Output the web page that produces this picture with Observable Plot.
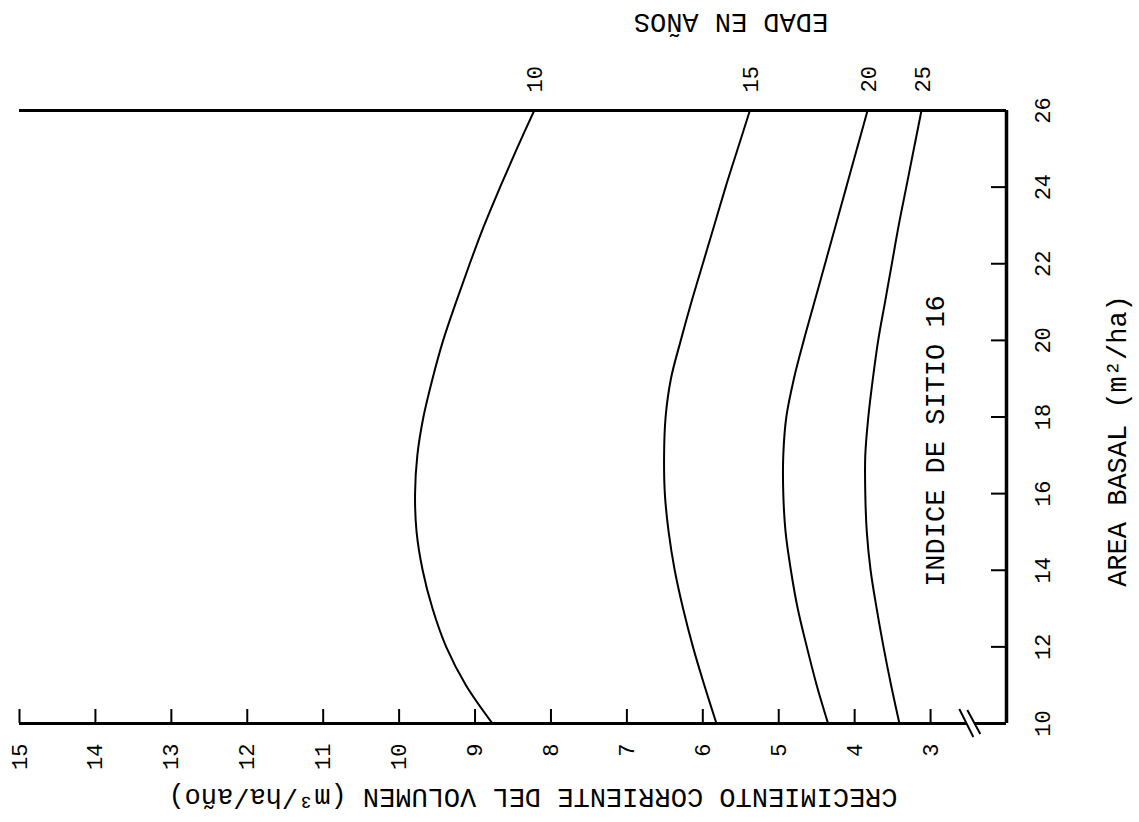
<!DOCTYPE html>
<html>
<head>
<meta charset="utf-8">
<script src="https://cdn.jsdelivr.net/npm/d3@7"></script>
<script src="https://cdn.jsdelivr.net/npm/@observablehq/plot@0.6"></script>
<style>
  html, body { margin: 0; padding: 0; background: #fff; }
  svg { display: block; }
</style>
</head>
<body>
<script>
// Crecimiento corriente del volumen vs. área basal, índice de sitio 16
const edades = [10, 15, 20, 25];
const areaBasal = [10, 11, 12, 13, 14, 15, 16, 17, 18, 19, 20, 21, 22, 23, 24, 25, 26];
const crecEdad10 = [8.77, 9.12, 9.38, 9.56, 9.69, 9.77, 9.79, 9.76, 9.68, 9.56, 9.42, 9.25, 9.07, 8.88, 8.67, 8.45, 8.22];
const crecEdad15 = [5.82, 5.98, 6.13, 6.26, 6.37, 6.45, 6.50, 6.51, 6.49, 6.42, 6.29, 6.15, 6.00, 5.85, 5.70, 5.54, 5.38];
const crecEdad20 = [4.35, 4.50, 4.63, 4.75, 4.84, 4.91, 4.94, 4.94, 4.90, 4.80, 4.67, 4.53, 4.39, 4.25, 4.11, 3.97, 3.83];
const crecEdad25 = [3.41, 3.52, 3.62, 3.71, 3.79, 3.84, 3.86, 3.86, 3.82, 3.76, 3.69, 3.60, 3.51, 3.42, 3.32, 3.22, 3.12];

const ticksCrec = [15, 14, 13, 12, 11, 10, 9, 8, 7, 6, 5, 4, 3];
const ticksArea = [10, 12, 14, 16, 18, 20, 22, 24, 26];
const marcasArea = [12, 14, 16, 18, 20, 22, 24];
const corteEje = 2.47; // where the volume axis is broken

const tituloX = "CRECIMIENTO CORRIENTE DEL VOLUMEN (m³/ha/año)";
const tituloY = "AREA BASAL (m²/ha)";
const tituloEdad = "EDAD EN AÑOS";
const nota = "INDICE DE SITIO 16";

const series = [crecEdad10, crecEdad15, crecEdad20, crecEdad25];
const filas = edades.flatMap((edad, k) =>
  areaBasal.map((ab, i) => ({edad, ab, crec: series[k][i]}))
);
const extremos = filas.filter((d) => d.ab === areaBasal[areaBasal.length - 1]);

const FONT = "Liberation Mono";

// axis break: two slashes across the volume axis with a small gap
const corte = (index, scales) => {
  const cx = scales.x(corteEje), cy = scales.y(10);
  const g = d3.create("svg:g");
  g.append("line").attr("x1", cx - 4).attr("x2", cx + 4).attr("y1", cy).attr("y2", cy)
    .attr("stroke", "white").attr("stroke-width", 5);
  g.append("line").attr("x1", cx - 11).attr("y1", cy - 14).attr("x2", cx + 3).attr("y2", cy + 14)
    .attr("stroke", "black").attr("stroke-width", 2);
  g.append("line").attr("x1", cx - 3).attr("y1", cy - 13).attr("x2", cx + 10).attr("y2", cy + 11)
    .attr("stroke", "black").attr("stroke-width", 2);
  return g.node();
};

const chart = Plot.plot({
  width: 1139,
  height: 822,
  marginLeft: 19,
  marginRight: 133,
  marginTop: 110,
  marginBottom: 99,
  x: {domain: [15, 2], axis: null},
  y: {domain: [10, 26], axis: null},
  style: {fontFamily: FONT, background: "white", color: "black"},
  marks: [
    // frame: top edge, area axis on the right, volume axis at the bottom
    Plot.ruleY([26], {stroke: "black", strokeWidth: 3}),
    Plot.ruleX([2], {stroke: "black", strokeWidth: 3.5}),
    Plot.ruleY([10], {stroke: "black", strokeWidth: 3}),
    // inward ticks
    Plot.ruleX(ticksCrec, {x: (d) => d, insetTop: 599, stroke: "black", strokeWidth: 2}),
    Plot.ruleY(marcasArea, {y: (d) => d, insetLeft: 972, stroke: "black", strokeWidth: 2}),
    corte,
    // curves by age
    Plot.line(filas, {x: "crec", y: "ab", z: "edad", curve: "catmull-rom", stroke: "black", strokeWidth: 2}),
    // tick labels
    Plot.text(ticksCrec, {x: (d) => d, y: 10, text: (d) => String(d), rotate: -90, textAnchor: "end", lineAnchor: "middle", dy: 20, fontSize: 22, fontFamily: FONT}),
    Plot.text(ticksArea, {x: 2, y: (d) => d, text: (d) => String(d), rotate: -90, textAnchor: "middle", lineAnchor: "middle", dx: 36, fontSize: 22, fontFamily: FONT}),
    // age labels at the top ends of the curves
    Plot.text(extremos, {x: "crec", y: "ab", text: (d) => String(d.edad), rotate: -90, textAnchor: "start", lineAnchor: "middle", dy: -18, dx: 1, fontSize: 22, fontFamily: FONT}),
    // titles
    Plot.text([tituloX], {frameAnchor: "bottom", text: (d) => d, rotate: 180, textAnchor: "middle", lineAnchor: "middle", dx: 20, dy: 74, fontSize: 27, fontFamily: FONT}),
    Plot.text([tituloY], {frameAnchor: "right", text: (d) => d, rotate: -90, textAnchor: "middle", lineAnchor: "middle", dx: 111, dy: 24, fontSize: 27, fontFamily: FONT}),
    Plot.text([tituloEdad], {frameAnchor: "top", text: (d) => d, rotate: 180, textAnchor: "middle", lineAnchor: "middle", dx: 218, dy: -88, fontSize: 27, fontFamily: FONT}),
    Plot.text([nota], {frameAnchor: "right", text: (d) => d, rotate: -90, textAnchor: "middle", lineAnchor: "middle", dx: -71, dy: 24, fontSize: 27, fontFamily: FONT})
  ]
});

document.body.appendChild(chart);
</script>
</body>
</html>
